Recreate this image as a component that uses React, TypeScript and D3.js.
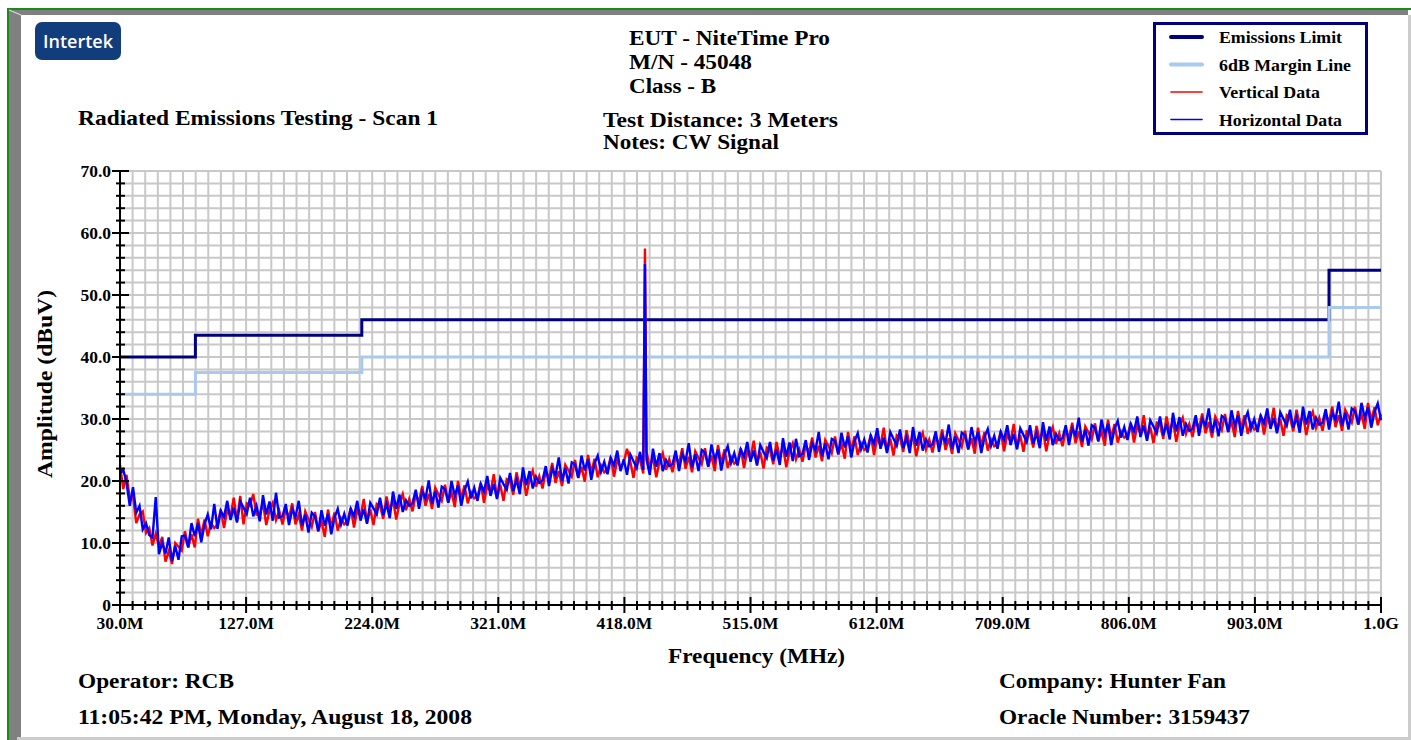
import React from "react";
import * as d3 from "d3";

// ---------- DATA ----------
const scanStartMHz = 30;
const scanStepMHz = 2.5;

// Horizontal antenna polarisation trace (dBuV), 30 MHz .. 1000 MHz every 2.5 MHz
const horizontalData = [
  21.2, 21.8, 19.8, 16.0, 19.0, 14.9, 16.0, 12.2, 13.2, 11.3,
  10.9, 17.4, 8.2, 10.1, 8.3, 10.9, 7.1, 9.5, 7.3, 11.1,
  11.2, 9.3, 13.2, 11.1, 13.2, 10.1, 13.0, 14.6, 12.2, 16.3,
  12.3, 15.2, 14.2, 16.8, 13.7, 15.7, 13.3, 16.7, 15.7, 14.7,
  17.3, 14.3, 16.0, 13.5, 17.7, 14.6, 16.7, 13.6, 18.1, 14.1,
  14.3, 16.3, 12.9, 15.5, 14.2, 16.8, 12.8, 14.6, 11.7, 14.9,
  14.3, 11.9, 15.3, 12.8, 14.7, 11.4, 14.1, 15.5, 13.0, 14.7,
  12.8, 15.5, 14.3, 16.8, 13.6, 15.5, 13.1, 16.5, 15.6, 14.6,
  17.3, 14.5, 16.3, 14.0, 18.3, 15.5, 17.8, 15.0, 16.9, 16.0,
  16.4, 18.6, 15.5, 18.3, 17.2, 20.1, 16.3, 18.4, 15.7, 19.1,
  18.7, 16.5, 20.0, 17.6, 19.3, 16.0, 18.5, 19.9, 17.2, 18.9,
  16.8, 19.5, 18.3, 20.8, 17.6, 19.5, 17.1, 20.5, 19.5, 18.6,
  21.3, 18.4, 20.2, 17.9, 22.2, 19.3, 21.6, 18.8, 20.7, 19.7,
  20.1, 22.4, 19.2, 22.0, 20.9, 23.8, 20.0, 22.1, 19.6, 23.0,
  22.7, 20.5, 24.1, 21.7, 23.5, 20.2, 22.8, 24.1, 21.5, 23.1,
  21.1, 23.7, 22.5, 24.9, 21.6, 23.5, 21.0, 24.3, 23.2, 22.1,
  24.7, 21.8, 23.5, 21.0, 25.2, 22.3, 24.5, 21.6, 23.4, 22.4,
  22.7, 24.9, 21.6, 24.4, 23.2, 26.1, 22.2, 24.3, 21.6, 25.0,
  24.6, 22.3, 25.9, 23.4, 25.1, 21.7, 24.3, 25.6, 22.9, 24.5,
  22.5, 25.1, 23.9, 26.3, 23.1, 24.9, 22.5, 25.8, 24.7, 23.7,
  26.3, 23.3, 25.1, 22.6, 26.9, 23.9, 26.2, 23.2, 26.8, 24.0,
  24.4, 26.6, 23.4, 26.1, 25.0, 27.9, 24.0, 26.1, 23.5, 26.8,
  26.5, 24.3, 27.8, 25.4, 27.2, 23.8, 26.4, 27.7, 25.1, 26.7,
  24.6, 27.3, 26.0, 28.5, 25.2, 27.0, 24.5, 27.9, 26.8, 25.7,
  28.3, 25.3, 27.0, 24.5, 28.7, 25.7, 27.9, 24.9, 26.7, 25.6,
  25.9, 28.0, 24.7, 27.4, 26.2, 29.1, 25.2, 27.2, 24.5, 27.8,
  27.4, 25.1, 28.7, 26.2, 27.9, 24.5, 27.1, 28.4, 25.7, 27.3,
  25.2, 27.9, 26.6, 29.0, 25.8, 27.6, 25.1, 28.5, 27.4, 26.3,
  29.0, 26.0, 27.7, 25.3, 29.5, 26.5, 28.8, 25.8, 27.6, 26.6,
  26.9, 29.0, 25.8, 28.5, 27.3, 30.2, 26.3, 28.3, 25.7, 29.0,
  28.6, 26.4, 29.9, 27.5, 29.2, 25.8, 28.4, 29.7, 27.0, 28.7,
  26.6, 29.2, 28.0, 30.4, 27.1, 29.0, 26.5, 29.8, 28.8, 27.7,
  30.4, 27.4, 29.2, 26.7, 31.0, 28.0, 30.3, 27.3, 29.2, 28.1,
  28.4, 30.6, 27.3, 30.0, 28.9, 31.7, 27.8, 29.9, 27.2, 30.5,
  30.1, 27.9, 31.4, 28.9, 30.6, 27.3, 29.8, 31.1, 28.4, 30.0,
  27.9, 30.5, 29.3, 31.7, 28.4, 30.2, 27.7, 31.1, 30.0, 28.9,
  31.5, 28.6, 30.3, 27.8, 32.0, 29.1, 31.3, 28.3, 30.2, 29.1,
  29.4, 31.6, 28.3, 31.1, 29.9, 32.8, 28.9, 31.0, 28.3, 31.7,
  31.3, 29.1, 32.6, 30.2, 31.9, 28.6, 31.1, 32.5, 29.8,
];

// Vertical antenna polarisation trace (dBuV), same frequency grid
const verticalData = [
  22.6, 18.7, 21.0, 17.2, 17.7, 13.2, 14.6, 15.1, 11.6, 12.4,
  9.6, 11.5, 9.4, 11.0, 7.0, 8.7, 6.6, 10.0, 9.4, 8.8,
  11.9, 9.3, 11.4, 9.3, 13.9, 11.2, 13.8, 11.1, 13.2, 12.4,
  13.0, 15.4, 12.4, 15.3, 14.3, 17.3, 13.5, 17.6, 13.0, 16.4,
  16.0, 17.9, 14.6, 14.7, 16.4, 12.9, 15.3, 16.5, 13.7, 15.2,
  13.0, 15.5, 14.1, 16.4, 13.0, 14.6, 12.0, 15.1, 13.8, 12.6,
  15.0, 11.9, 13.5, 11.0, 15.4, 12.5, 14.9, 12.0, 14.0, 13.0,
  13.5, 15.7, 12.5, 15.3, 14.2, 17.1, 13.3, 15.4, 12.9, 16.3,
  16.0, 13.9, 17.5, 15.2, 17.0, 13.8, 16.4, 17.9, 15.3, 17.1,
  15.1, 17.8, 16.7, 19.2, 16.0, 17.9, 15.5, 18.9, 17.8, 16.8,
  19.4, 16.5, 18.2, 15.8, 20.0, 17.1, 19.3, 16.4, 18.2, 17.2,
  17.5, 19.7, 16.5, 19.3, 18.2, 21.1, 17.3, 19.4, 16.8, 20.3,
  20.0, 17.8, 21.4, 19.1, 20.9, 17.6, 20.2, 21.7, 19.1, 20.8,
  18.8, 21.6, 20.4, 22.9, 19.7, 21.6, 19.2, 22.6, 21.7, 20.7,
  23.4, 20.5, 22.3, 19.9, 24.2, 21.3, 23.6, 20.6, 22.5, 21.4,
  21.8, 23.9, 20.7, 23.4, 22.2, 23.0, 25.2, 23.2, 20.5, 23.8,
  23.4, 21.2, 24.7, 22.2, 23.9, 20.6, 23.1, 24.5, 21.8, 23.5,
  21.4, 24.1, 22.8, 25.3, 22.0, 23.9, 21.4, 24.8, 23.7, 22.7,
  25.3, 22.3, 24.1, 21.6, 25.8, 22.8, 25.1, 22.1, 23.9, 22.8,
  23.2, 25.3, 22.1, 24.8, 23.7, 26.5, 22.7, 24.7, 22.0, 25.4,
  25.0, 22.7, 26.3, 23.8, 25.6, 22.2, 24.8, 26.1, 23.5, 25.1,
  23.1, 25.8, 24.6, 27.0, 23.8, 25.7, 23.2, 26.6, 25.6, 24.5,
  27.2, 24.3, 26.0, 23.6, 27.9, 24.9, 27.2, 24.2, 26.1, 25.0,
  25.3, 27.5, 24.2, 27.0, 25.8, 28.6, 24.7, 26.8, 24.1, 27.4,
  27.0, 24.7, 28.2, 25.7, 27.4, 24.0, 26.5, 27.8, 25.1, 26.7,
  24.6, 27.2, 25.9, 28.3, 25.0, 26.9, 24.4, 27.7, 26.6, 25.5,
  28.1, 25.1, 26.9, 24.4, 28.6, 25.6, 27.9, 24.9, 26.7, 25.6,
  25.9, 28.1, 24.8, 27.5, 26.4, 29.2, 25.3, 27.4, 24.7, 28.0,
  27.7, 25.4, 28.9, 26.5, 28.2, 24.8, 27.4, 28.7, 26.0, 27.7,
  25.6, 28.2, 27.0, 29.4, 26.1, 28.0, 25.5, 28.8, 27.8, 26.7,
  29.3, 26.4, 28.1, 25.7, 29.9, 26.9, 29.2, 26.2, 28.0, 27.0,
  27.3, 29.4, 26.2, 28.9, 27.7, 30.6, 26.7, 28.7, 26.1, 29.4,
  29.1, 26.8, 30.4, 27.9, 29.7, 26.3, 28.9, 30.2, 27.6, 29.2,
  27.1, 29.8, 28.5, 30.9, 27.7, 29.5, 27.0, 30.4, 29.3, 28.2,
  30.8, 27.9, 29.6, 27.1, 31.3, 28.4, 30.6, 27.6, 29.4, 28.3,
  28.6, 30.7, 27.5, 30.2, 29.0, 31.8, 27.9, 30.0, 27.3, 30.6,
  30.2, 28.0, 31.5, 29.0, 30.7, 27.4, 29.9, 31.2, 28.6, 30.2,
  28.1, 30.8, 29.5, 32.0, 28.7, 30.6, 28.1, 31.5, 30.4, 29.4,
  32.0, 29.1, 30.8, 28.4, 32.6, 29.7, 31.9, 29.0, 30.8,
];

// CW signal spike
const cwSpikeMHz = 433.8;
const verticalSpikeDbuv = 57.5;
const horizontalSpikeDbuv = 55.0;

// Class B limits (step functions)
const limitBreaksMHz = [30, 88, 216, 960, 1000];
const emissionsLimit = [40, 43.5, 46, 54];
const marginLine = [34, 37.5, 40, 48];

// Axis ticks
const xTickValues = [30, 127, 224, 321, 418, 515, 612, 709, 806, 903, 1000];
const xTickLabels = ["30.0M", "127.0M", "224.0M", "321.0M", "418.0M", "515.0M", "612.0M", "709.0M", "806.0M", "903.0M", "1.0G"];
const yTickValues = [0, 10, 20, 30, 40, 50, 60, 70];
const yTickLabels = ["0", "10.0", "20.0", "30.0", "40.0", "50.0", "60.0", "70.0"];

const legendLabels = ["Emissions Limit", "6dB Margin Line", "Vertical Data", "Horizontal Data"];

// ---------- STYLE ----------
const W = 1411;
const H = 740;
const plot = { left: 120, right: 1381, top: 171, bottom: 605 };
const SERIF = "'Liberation Serif', 'Times New Roman', serif";
const C_LIMIT = "#000080";
const C_MARGIN = "#a9c9ee";
const C_RED = "#ff0000";
const C_BLUE = "#0000ff";
const C_GRID = "#c8c8c8";

type TProps = {
  x: number;
  y: number;
  size: number;
  len?: number;
  anchor?: "start" | "middle" | "end";
  transform?: string;
  children: React.ReactNode;
};
function T({ x, y, size, len, anchor, transform, children }: TProps) {
  return (
    <text
      x={x}
      y={y}
      fontSize={size}
      fontFamily={SERIF}
      fontWeight={700}
      fill="#000"
      textAnchor={anchor || "start"}
      transform={transform}
      textLength={len}
      lengthAdjust={len ? "spacingAndGlyphs" : undefined}
    >
      {children}
    </text>
  );
}

export default function App() {
  const x = d3.scaleLinear().domain([30, 1000]).range([plot.left, plot.right]);
  const y = d3.scaleLinear().domain([0, 70]).range([plot.bottom, plot.top]);

  const minorDiv = 10;
  const xMinor: number[] = [];
  for (let i = 0; i < xTickValues.length - 1; i++) {
    const a = xTickValues[i], b = xTickValues[i + 1];
    for (let k = 0; k < minorDiv; k++) xMinor.push(a + ((b - a) * k) / minorDiv);
  }
  xMinor.push(xTickValues[xTickValues.length - 1]);
  const yMinor = d3.range(0, 70.001, 2);

  const toSeries = (vals: number[], spike: number) => {
    const pts = vals.map((v, i) => ({ f: scanStartMHz + i * scanStepMHz, v }));
    pts.push({ f: cwSpikeMHz, v: spike });
    pts.sort((a, b) => a.f - b.f);
    return pts;
  };
  const line = d3
    .line<{ f: number; v: number }>()
    .x((d) => x(d.f))
    .y((d) => y(d.v));

  const stepLine = (vals: number[]) => {
    const pts = limitBreaksMHz.map((f, i) => ({ f, v: vals[Math.min(i, vals.length - 1)] }));
    return d3
      .line<{ f: number; v: number }>()
      .x((d) => x(d.f))
      .y((d) => y(d.v))
      .curve(d3.curveStepAfter)(pts) as string;
  };

  const redPath = line(toSeries(verticalData, verticalSpikeDbuv)) as string;
  const bluePath = line(toSeries(horizontalData, horizontalSpikeDbuv)) as string;

  const legendRows = [
    { color: C_LIMIT, w: 4, len: 123 },
    { color: C_MARGIN, w: 4, len: 132 },
    { color: C_RED, w: 1.6, len: 101 },
    { color: C_BLUE, w: 1.6, len: 123 },
  ];

  return (
    <svg width={W} height={H} style={{ position: "absolute", left: 0, top: 0, display: "block" }}>
      <rect x={0} y={0} width={W} height={H} fill="#fff" />
      {/* frame */}
      <rect x={7} y={8} width={W - 7} height={2} fill="#1a8a1a" />
      <rect x={7} y={8} width={2} height={H - 8} fill="#1a8a1a" />
      <rect x={9} y={10} width={1399} height={5} fill="#808080" />
      <rect x={9} y={10} width={12} height={H - 10} fill="#808080" />
      <line x1={9} y1={10} x2={21} y2={15} stroke="#e8e8e8" strokeWidth={1} />
      <rect x={1408} y={15} width={3} height={H - 15} fill="#cccccc" />
      <rect x={17} y={737} width={W - 17} height={3} fill="#cccccc" />

      {/* logo */}
      <rect x={35} y={22} width={86} height={38} rx={7} fill="#123d7c" />
      <text x={78} y={48} textAnchor="middle" fontFamily="'Open Sans', 'DejaVu Sans', sans-serif" fontWeight={600} fontSize={18} fill="#fff">
        Intertek
      </text>

      {/* header text */}
      <T x={78} y={125} size={21} len={360}>Radiated Emissions Testing - Scan 1</T>
      <T x={629} y={45} size={21} len={201}>EUT - NiteTime Pro</T>
      <T x={629} y={69} size={21} len={123}>M/N - 45048</T>
      <T x={629} y={93} size={21} len={87}>Class - B</T>
      <T x={603} y={127} size={20} len={235}>Test Distance: 3 Meters</T>
      <T x={603} y={149} size={20} len={176}>Notes: CW Signal</T>

      {/* legend */}
      <rect x={1154.5} y={23.5} width={212} height={110} fill="#fff" stroke={C_LIMIT} strokeWidth={3} />
      {legendLabels.map((lab, i) => {
        const ry = 37 + i * 27.5;
        return (
          <g key={lab}>
            <line x1={1171} x2={1202} y1={ry} y2={ry} stroke={legendRows[i].color} strokeWidth={legendRows[i].w} strokeLinecap="round" />
            <T x={1219} y={ry + 6} size={17} len={legendRows[i].len}>{lab}</T>
          </g>
        );
      })}

      {/* grid */}
      <g>
        {xMinor.map((f, i) => (
          <line key={"gx" + i} x1={x(f)} x2={x(f)} y1={plot.top} y2={plot.bottom} stroke={C_GRID} strokeWidth={2} />
        ))}
        {yMinor.map((v, i) => (
          <line key={"gy" + i} x1={plot.left} x2={plot.right} y1={y(v)} y2={y(v)} stroke={C_GRID} strokeWidth={2} />
        ))}
      </g>

      {/* limit lines */}
      <path d={stepLine(emissionsLimit)} fill="none" stroke={C_LIMIT} strokeWidth={3} />
      <path d={stepLine(marginLine)} fill="none" stroke={C_MARGIN} strokeWidth={3} />

      {/* data */}
      <path d={redPath} fill="none" stroke={C_RED} strokeWidth={2.4} strokeLinejoin="miter" />
      <path d={bluePath} fill="none" stroke={C_BLUE} strokeWidth={2.4} strokeLinejoin="miter" />

      {/* axes */}
      <line x1={plot.left} x2={plot.left} y1={plot.top} y2={plot.bottom + 1} stroke="#000" strokeWidth={2} />
      <line x1={plot.left - 1} x2={plot.right} y1={plot.bottom} y2={plot.bottom} stroke="#000" strokeWidth={2} />
      {yMinor.map((v, i) => {
        const major = yTickValues.includes(v);
        return (
          <line key={"ty" + i} x1={major ? plot.left - 8 : plot.left - 4} x2={major ? plot.left + 9 : plot.left + 5} y1={y(v)} y2={y(v)} stroke="#000" strokeWidth={2} />
        );
      })}
      {xMinor.map((f, i) => {
        const major = i % minorDiv === 0;
        return (
          <line key={"tx" + i} x1={x(f)} x2={x(f)} y1={major ? plot.bottom - 8 : plot.bottom - 4} y2={major ? plot.bottom + 8 : plot.bottom + 5} stroke="#000" strokeWidth={2} />
        );
      })}
      {yTickValues.map((v, i) => (
        <T key={"yl" + i} x={plot.left - 9} y={y(v) + 5.5} size={17.5} anchor="end">{yTickLabels[i]}</T>
      ))}
      {xTickValues.map((f, i) => (
        <T key={"xl" + i} x={x(f)} y={629} size={17.5} anchor="middle">{xTickLabels[i]}</T>
      ))}
      <T x={756.5} y={663} size={21} anchor="middle" len={177}>Frequency (MHz)</T>
      <T x={0} y={0} size={21} anchor="middle" len={188} transform="translate(52,384) rotate(-90)">Amplitude (dBuV)</T>

      {/* footer */}
      <T x={78} y={688} size={20} len={156}>Operator: RCB</T>
      <T x={78} y={724} size={20} len={394}>11:05:42 PM, Monday, August 18, 2008</T>
      <T x={999} y={688} size={20} len={227}>Company: Hunter Fan</T>
      <T x={999} y={724} size={20} len={251}>Oracle Number: 3159437</T>
    </svg>
  );
}
